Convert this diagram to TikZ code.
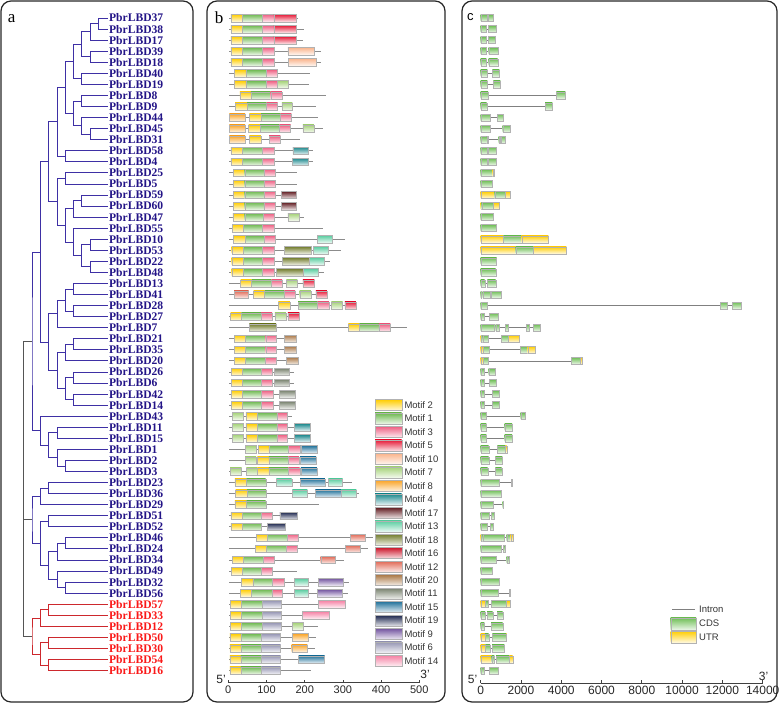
\documentclass[tikz,border=0pt]{standalone}
\usepackage{fontspec}
\setmainfont{Liberation Serif}
\setsansfont{Liberation Sans}
\usetikzlibrary{calc}

\definecolor{treeblue}{RGB}{62,48,165}
\definecolor{treered}{RGB}{205,40,45}
\definecolor{treegray}{RGB}{85,85,85}
\definecolor{labblue}{RGB}{35,20,135}
\definecolor{labred}{RGB}{250,25,25}
\definecolor{mc1}{RGB}{110,185,80}
\definecolor{mc2}{RGB}{255,205,0}
\definecolor{mc3}{RGB}{238,95,130}
\definecolor{mc4}{RGB}{25,135,140}
\definecolor{mc5}{RGB}{230,25,55}
\definecolor{mc6}{RGB}{150,150,180}
\definecolor{mc7}{RGB}{165,210,120}
\definecolor{mc8}{RGB}{250,165,40}
\definecolor{mc9}{RGB}{115,85,160}
\definecolor{mc10}{RGB}{250,180,140}
\definecolor{mc11}{RGB}{120,130,110}
\definecolor{mc12}{RGB}{225,105,85}
\definecolor{mc13}{RGB}{90,205,160}
\definecolor{mc14}{RGB}{245,130,165}
\definecolor{mc15}{RGB}{35,115,155}
\definecolor{mc16}{RGB}{205,25,45}
\definecolor{mc17}{RGB}{95,25,30}
\definecolor{mc18}{RGB}{115,125,45}
\definecolor{mc19}{RGB}{25,35,75}
\definecolor{mc20}{RGB}{170,120,70}
\definecolor{cdsgreen}{RGB}{110,190,85}
\definecolor{utryellow}{RGB}{255,205,0}

\tikzset{
  frame/.style={draw=black!85,line width=1.2pt,rounded corners=10pt},
  leaf/.style={anchor=west,inner sep=1.2pt,font=\fontsize{11.6}{12}\selectfont\bfseries},
  backbone/.style={draw=black!45,line width=.8pt},
  mot/.style={draw=black!30,line width=.4pt,top color=#1,bottom color=#1!12},
  exC/.style={mot=cdsgreen},
  exU/.style={mot=utryellow},
  intron/.style={draw=black!50,line width=.7pt},
  axisline/.style={draw=black!75,line width=.8pt},
  ticklab/.style={anchor=north,inner sep=1pt,text=black!85,font=\sffamily\fontsize{11}{11}\selectfont},
  endlab/.style={inner sep=0pt,text=black!85,font=\sffamily\fontsize{12}{12}\selectfont},
  legtext/.style={anchor=west,inner sep=0pt,text=black!80,font=\sffamily\fontsize{9.5}{10}\selectfont},
  panellab/.style={inner sep=0pt,font=\fontsize{17}{17}\selectfont}
}

% name, level, first child, second child
\newcommand{\clade}[4]{%
  \path let \p1=($(#3)!.5!(#4)$) in coordinate (#1) at ({(23.7+8.3*#2)*1pt},\y1);
  \draw (#3) -| (#1) |- (#4);}

\begin{document}
\begin{tikzpicture}[x=1pt,y=-1pt]
\useasboundingbox (0,0) rectangle (779,704);

% panels
\draw[frame] (1,1) rectangle (193,702);
\draw[frame] (207,1) rectangle (445,702);
\draw[frame] (462,1) rectangle (777,702);
\node[panellab] (pa) at (11.7,19) {a};
\node[panellab] (pb) at (219,17.5) {b};
\node[panellab,font=\sffamily\fontsize{13}{13}\selectfont] (pc) at (470.3,17.5) {c};

% tree leaves
\foreach \nm [count=\i] in {37,38,17,39,18,40,19,8,9,44,45,31,58,4,25,5,59,60,47,55,10,53,22,48,13,41,28,27,7,21,35,20,26,6,42,14,43,11,15,1,2,3,23,36,29,51,52,46,24,34,49,32,56,57,33,12,50,30,54,16}{
  \coordinate (c\i) at (107.7,{18+11.06*(\i-1)});
  \ifnum\i>53 \def\lc{labred}\else\def\lc{labblue}\fi
  \node[leaf,text=\lc] (lab\i) at (c\i) {PbrLBD\nm};
}

\begin{scope}[treeblue,line width=.8pt]
\clade{n1}{9}{c1}{c2}
\clade{n2}{8}{n1}{c3}
\clade{n3}{8}{c4}{c5}
\clade{n4}{7}{n2}{n3}
\clade{n5}{7}{c6}{c7}
\clade{n6}{6}{n4}{n5}
\clade{n7}{7}{c8}{c9}
\clade{n8}{8}{c11}{c12}
\clade{n9}{7}{c10}{n8}
\clade{n10}{6}{n7}{n9}
\clade{n11}{5}{n6}{n10}
\clade{n12}{5}{c13}{c14}
\clade{n13}{4}{n11}{n12}
\clade{n14}{5}{c15}{c16}
\clade{n15}{7}{c17}{c18}
\clade{n16}{6}{n15}{c19}
\clade{n17}{8}{c21}{c22}
\clade{n18}{8}{c23}{c24}
\clade{n19}{7}{n17}{n18}
\clade{n20}{6}{c20}{n19}
\clade{n21}{5}{n16}{n20}
\clade{n22}{4}{n14}{n21}
\clade{n23}{3}{n13}{n22}
\clade{n24}{6}{c25}{c26}
\clade{n25}{6}{c27}{c28}
\clade{n26}{5}{n24}{n25}
\clade{n27}{4}{n26}{c29}
\clade{n28}{6}{c30}{c31}
\clade{n29}{5}{n28}{c32}
\clade{n30}{6}{c33}{c34}
\clade{n31}{6}{c35}{c36}
\clade{n32}{5}{n30}{n31}
\clade{n33}{4}{n29}{n32}
\clade{n34}{3}{n27}{n33}
\clade{n35}{2}{n23}{n34}
\clade{n36}{4}{c38}{c39}
\clade{n37}{5}{c41}{c42}
\clade{n38}{4}{c40}{n37}
\clade{n39}{3}{n36}{n38}
\clade{n40}{2}{c37}{n39}
\clade{n41}{1}{n35}{n40}
\clade{n42}{3}{c43}{c44}
\clade{n43}{2}{n42}{c45}
\clade{n44}{3}{c46}{c47}
\clade{n45}{5}{c48}{c49}
\clade{n46}{4}{n45}{c50}
\clade{n47}{5}{c52}{c53}
\clade{n48}{4}{c51}{n47}
\clade{n49}{3}{n46}{n48}
\clade{n50}{2}{n44}{n49}
\clade{n51}{1}{n43}{n50}
\end{scope}
\begin{scope}[treered,line width=.8pt]
\clade{n52}{3}{c54}{c55}
\clade{n53}{2}{n52}{c56}
\clade{n54}{3}{c57}{c58}
\clade{n55}{3}{c59}{c60}
\clade{n56}{2}{n54}{n55}
\clade{n57}{1}{n53}{n56}
\end{scope}
\begin{scope}[treegray,line width=.8pt]
\coordinate (root) at (23.7,520);
\draw (n41) -| (root) |- (n57);
\draw (n51) -- (n51 -| root);
\end{scope}

% motif structure
\begin{scope}[shift={(228.3,0)},x=0.382pt]
\foreach \r/\e/\bx in {
  1/183/{7/37/2,37/90/1,90/119/3,119/177/5},
  2/199/{7/37/2,37/90/1,90/119/3,119/177/5},
  3/196/{7/37/2,37/90/1,90/119/3,119/177/5},
  4/242/{7/37/2,37/90/1,90/119/3,156/226/10},
  5/242/{7/37/2,37/90/1,90/119/3,158/229/10},
  6/215/{16/46/2,46/99/1,99/127/3},
  7/212/{16/46/2,46/99/1,99/127/3,129/158/7},
  8/255/{30/59/2,59/111/1,111/140/3},
  9/229/{18/49/2,49/100/1,100/129/3,140/168/7},
  10/234/{3/44/8,55/86/2,86/137/1,137/165/3},
  11/247/{3/44/8,53/83/2,83/134/1,134/163/3,195/224/7},
  12/188/{3/44/8,55/85/2,107/136/3},
  13/223/{7/37/2,37/90/1,90/119/3,169/210/4},
  14/221/{7/37/2,37/90/1,90/119/3,168/209/4},
  15/179/{13/43/2,43/93/1,93/122/3},
  16/179/{13/43/2,43/93/1,93/122/3},
  17/178/{13/43/2,43/93/1,93/122/3,139/178/17},
  18/178/{13/43/2,43/93/1,93/122/3,139/178/17},
  19/199/{12/43/2,43/92/1,92/121/3,156/186/7},
  20/249/{10/40/2,40/90/1,90/120/3},
  21/305/{13/44/2,44/94/1,94/123/3,234/272/13},
  22/294/{9/39/2,39/90/1,90/119/3,146/216/18,223/261/13},
  23/265/{9/39/2,39/90/1,90/119/3,141/213/18,213/251/13},
  24/250/{9/39/2,39/90/1,90/119/3,126/197/18,197/235/13},
  25/225/{32/61/2,61/113/1,113/141/3,152/181/7,195/225/5},
  26/259/{15/53/12,66/95/2,95/147/1,147/175/3,187/216/7,229/258/5},
  27/334/{131/161/2,183/234/1,234/263/3,270/299/7,305/334/5},
  28/188/{6/34/2,34/86/1,86/115/3,122/151/7,156/186/5},
  29/467/{55/125/18,314/343/2,343/394/1,394/424/3},
  30/177/{16/45/2,45/98/1,98/126/3,147/177/20},
  31/177/{16/45/2,45/98/1,98/126/3,147/177/20},
  32/182/{15/45/2,45/96/1,96/125/3,152/182/20},
  33/172/{8/37/2,37/87/1,87/116/3,120/160/11},
  34/172/{8/37/2,37/87/1,87/116/3,120/160/11},
  35/177/{8/37/2,37/87/1,87/118/3,133/175/11},
  36/177/{8/37/2,37/87/1,87/118/3,133/175/11},
  37/168/{10/39/7,46/76/2,76/127/1,127/155/3},
  38/215/{10/39/7,46/76/2,76/127/1,127/155/3,173/214/4},
  39/215/{10/39/7,46/76/2,76/127/1,127/155/3,173/214/4},
  40/233/{44/73/7,78/106/2,106/157/1,157/187/3,190/232/15},
  41/233/{44/73/7,76/106/2,106/157/1,157/185/3,188/230/15},
  42/233/{5/35/7,47/76/7,76/106/2,106/157/1,157/187/3,190/232/15},
  43/325/{17/47/2,47/98/1,126/166/13,188/253/15,262/299/13},
  44/342/{19/49/2,49/99/1,168/207/13,228/295/15,295/335/13},
  45/237/{17/47/2,47/98/1},
  46/181/{7/37/2,37/87/1,87/116/3,135/181/19},
  47/149/{7/37/2,37/87/1,102/149/19},
  48/380/{73/103/2,103/154/1,154/184/3,319/359/12},
  49/367/{71/100/2,100/152/1,152/181/3,306/346/12},
  50/303/{10/40/2,40/92/1,92/121/3,242/281/12},
  51/181/{8/37/2,37/87/1,87/116/3},
  52/317/{34/64/2,64/116/1,116/146/3,172/210/13,236/301/9},
  53/313/{32/61/2,61/114/1,114/142/3,172/210/13,233/299/9},
  54/306/{5/35/2,35/89/1,89/139/6,236/305/14},
  55/264/{5/35/2,35/89/1,89/139/6,194/263/14},
  56/234/{5/35/2,35/89/1,89/139/6,168/196/7},
  57/230/{4/33/2,33/87/1,87/137/6,168/210/8},
  58/226/{4/33/2,33/87/1,87/137/6,166/207/8},
  59/252/{4/33/2,33/87/1,87/137/6,184/252/15},
  60/217/{4/33/2,33/87/1,87/137/6}}{
  \pgfmathsetmacro\yy{18+11.06*(\r-1)}
  \draw[backbone] (2,\yy) -- (\e,\yy);
  \foreach \sa/\sb/\mk in \bx
    \draw[mot=mc\mk] (\sa,{\yy-3.7}) rectangle (\sb,{\yy+3.7});
}
\draw[axisline] (0,682.7) -- (500,682.7);
\foreach \v in {0,100,...,500}{
  \draw[axisline] (\v,682.7) -- (\v,679.7);
  \node[ticklab] (tb\v) at (\v,684.3) {\v};
}
\end{scope}
\node[endlab] (b5) at (221,679) {5'};
\node[endlab] (b3) at (425,674) {3'};

% motif legend
\foreach \k [count=\j from 0] in {2,1,3,5,10,7,8,4,17,13,18,16,12,20,11,15,19,9,6,14}{
  \pgfmathsetmacro\ly{405+13.47*\j}
  \draw[mot=mc\k] (375,{\ly-5.5}) rectangle (401.7,{\ly+5.5});
  \node[legtext] (lg\k) at (404.3,\ly) {Motif \k};
}

% gene structure
\begin{scope}[shift={(480.7,0)},x=0.02014pt]
\foreach \r/\e/\ex in {
  1/645/{0/298/C,364/645/C},
  2/745/{0/281/C,381/745/C},
  3/695/{0/281/C,364/695/C},
  4/844/{0/281/C,397/844/C},
  5/844/{0/281/C,397/844/C},
  6/927/{0/331/C,579/927/C},
  7/976/{0/331/C,629/976/C},
  8/4204/{0/364/C,3757/4204/C},
  9/3558/{0/298/C,3194/3558/C},
  10/1125/{0/447/C,827/1125/C},
  11/1440/{0/447/C,1092/1440/C},
  12/1225/{0/248/C,298/348/C,894/960/C,1010/1225/C},
  13/745/{0/314/C,381/745/C},
  14/745/{0/314/C,381/745/C},
  15/679/{0/596/C,596/679/U},
  16/546/{0/546/C},
  17/1456/{0/695/U,695/1225/C,1225/1456/U},
  18/894/{0/50/U,50/645/C,645/894/U},
  19/596/{0/596/C},
  20/745/{0/745/C},
  21/3360/{0/1125/U,1125/2036/C,2036/3360/U},
  22/4253/{0/1738/U,1738/2631/C,2631/4253/U},
  23/794/{0/794/C},
  24/745/{0/745/C},
  25/745/{0/199/C,331/745/C},
  26/1010/{0/33/C,99/463/C,513/1010/C},
  27/12909/{0/298/C,11900/12214/C,12495/12909/C},
  28/844/{0/149/C,430/844/C},
  29/2962/{0/679/C,745/927/C,1208/1341/C,2267/2416/C,2615/2962/C},
  30/1887/{0/99/U,99/381/C,1026/1374/C,1374/1887/U},
  31/2714/{0/132/U,132/397/C,1969/2334/C,2334/2714/U},
  32/5048/{0/132/U,132/348/C,4485/4932/C,4932/5048/U},
  33/728/{0/149/C,397/728/C},
  34/778/{0/149/C,430/778/C},
  35/927/{0/166/C,563/927/C},
  36/927/{0/166/C,563/927/C},
  37/2218/{0/281/C,1986/2218/C},
  38/1556/{0/281/C,1192/1556/C},
  39/1556/{0/281/C,1192/1556/C},
  40/1291/{0/397/C,827/1225/C,1225/1291/U},
  41/1076/{0/397/C,728/1076/C},
  42/1043/{0/348/C,728/1043/C},
  43/1539/{0/927/C,1506/1539/C},
  44/1010/{0/1010/C},
  45/1125/{0/629/C,1092/1125/C},
  46/679/{0/397/C,513/679/C},
  47/629/{0/298/C,463/629/C},
  48/1622/{0/99/U,99/1175/C,1291/1490/C,1490/1622/U},
  49/1225/{0/993/C,1125/1225/C},
  50/1390/{0/794/C,1291/1390/C},
  51/546/{0/546/C},
  52/927/{0/927/C},
  53/1440/{0/877/C,1407/1440/C},
  54/1473/{0/215/U,215/381/C,530/1258/C,1258/1473/U},
  55/1092/{0/215/C,314/596/C,811/1092/C},
  56/1092/{0/182/C,513/1092/C},
  57/1290/{0/215/U,215/397/C,580/1258/C,1258/1290/U},
  58/1175/{0/232/U,232/463/C,563/1175/C},
  59/1589/{0/546/U,546/679/C,761/1424/C,1424/1589/U},
  60/861/{0/182/C,414/861/C}}{
  \pgfmathsetmacro\yy{18+11.06*(\r-1)}
  \draw[intron] (0,\yy) -- (\e,\yy);
  \foreach \xa/\xb/\kd in \ex
    \draw[ex\kd] (\xa,{\yy-3.5}) rectangle (\xb,{\yy+3.5});
}
\draw[axisline] (0,683.3) -- (14000,683.3);
\foreach \v in {0,2000,...,14000}{
  \draw[axisline] (\v,683.3) -- (\v,680.3);
  \node[ticklab,font=\sffamily\fontsize{12}{12}\selectfont] (tc\v) at (\v,685) {\v};
}
\end{scope}
\node[endlab] (c5) at (472.5,679) {5'};
\node[endlab] (c3) at (763.5,676) {3'};

% gene legend
\coordinate (intA) at (672,609);
\coordinate (intB) at (695,609);
\draw[intron] (intA) -- (intB);
\node[legtext] (lgi) at (699,609) {Intron};
\draw[exC] (670.7,617.7) rectangle (696,630);
\node[legtext] (lgc) at (699,623.5) {CDS};
\draw[exU] (670.7,631) rectangle (696,642.7);
\node[legtext] (lgu) at (699,637) {UTR};
\end{tikzpicture}
\end{document}
